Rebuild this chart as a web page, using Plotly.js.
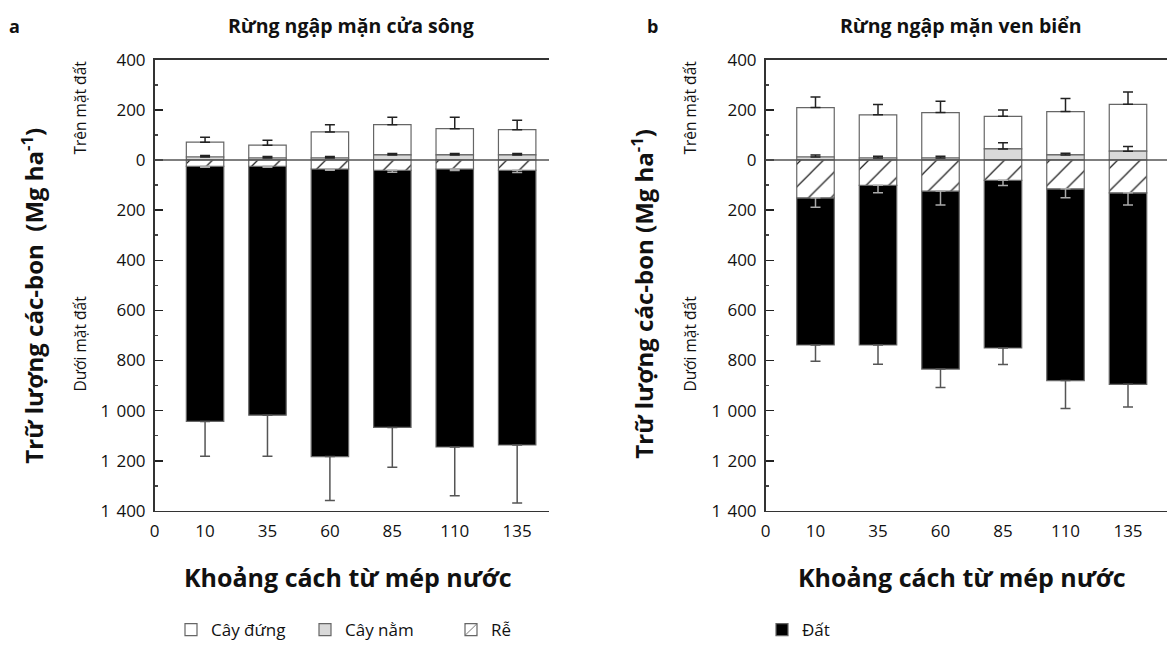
<!DOCTYPE html>
<html>
<head>
<meta charset="utf-8">
<script src="https://cdn.plot.ly/plotly-3.0.1.min.js"></script>
<style>html,body{margin:0;padding:0;background:#fff;}#chart{width:1167px;height:648px;}</style>
</head>
<body>
<div id="chart"></div>
<script>
// ---------- DATA ----------
const distances = ['10', '35', '60', '85', '110', '135'];
const seriesNames = ['Cây đứng', 'Cây nằm', 'Rễ', 'Đất'];

// Panel a: Rừng ngập mặn cửa sông (Mg ha-1)
const aStanding    = [59, 51, 104, 121, 105, 101];
const aStandingErr = [20, 20, 29, 29, 45, 38];
const aDowned      = [12, 8, 8, 20, 20, 20];
const aDownedErr   = [6, 6, 6, 6, 6, 6];
const aRoots       = [25, 25, 36, 41, 36, 41];
const aRootsErr    = [4, 4, 5, 8, 6, 9];
const aSoil        = [1018, 993, 1147, 1026, 1109, 1096];
const aSoilErr     = [139, 164, 175, 159, 194, 231];

// Panel b: Rừng ngập mặn ven biển (Mg ha-1)
const bStanding    = [197, 172, 181, 130, 173, 187];
const bStandingErr = [42, 41, 45, 25, 52, 49];
const bDowned      = [12, 8, 8, 44, 20, 35];
const bDownedErr   = [8, 7, 7, 25, 7, 19];
const bRoots       = [151, 101, 124, 81, 115, 131];
const bRootsErr    = [38, 30, 56, 21, 36, 49];
const bSoil        = [587, 637, 710, 669, 765, 764];
const bSoilErr     = [65, 77, 74, 66, 111, 90];

const yTickValues = [-1400, -1200, -1000, -800, -600, -400, -200, 0, 200, 400];

// ---------- BUILD ----------
const FONT = '"Open Sans", "Noto Sans", sans-serif';
const xPos = distances.map((_, i) => i + 1);
const zeros = distances.map(() => 0);
const neg = arr => arr.map(v => -v);
const fmt = v => String(Math.abs(v)).replace(/\B(?=(\d{3})+(?!\d))/g, ' \u200A');

function panelTraces(standing, standingErr, downed, downedErr, roots, rootsErr, soil, soilErr, xa, ya, showLeg) {
  const common = {type: 'bar', x: xPos, xaxis: xa, yaxis: ya, width: 0.6, hoverinfo: 'y+name'};
  const line = {color: '#666', width: 1.2};
  return [
    Object.assign({}, common, {
      name: seriesNames[0], y: standing, base: downed,
      marker: {color: '#ffffff', line: line},
      error_y: {type: 'data', symmetric: false, array: standingErr, arrayminus: zeros, color: '#222', thickness: 1.5, width: 5},
      showlegend: showLeg, legend: 'legend'
    }),
    Object.assign({}, common, {
      name: seriesNames[1], y: downed,
      marker: {color: '#d9d9d9', line: line},
      error_y: {type: 'data', symmetric: false, array: downedErr, arrayminus: zeros, color: '#222', thickness: 1.5, width: 5},
      showlegend: showLeg, legend: 'legend2'
    }),
    Object.assign({}, common, {
      name: seriesNames[3], y: neg(soil), base: neg(roots),
      marker: {color: '#000000', line: line},
      error_y: {type: 'data', symmetric: false, array: zeros, arrayminus: soilErr, color: '#555', thickness: 1.5, width: 5},
      showlegend: showLeg, legend: 'legend4'
    }),
    Object.assign({}, common, {
      name: seriesNames[2], y: neg(roots),
      marker: {color: '#ffffff', line: line,
               pattern: {shape: '/', fgcolor: '#222', bgcolor: '#ffffff', size: 16, solidity: 0.08}},
      error_y: {type: 'data', symmetric: false, array: zeros, arrayminus: rootsErr, color: '#aaa', thickness: 1.5, width: 5},
      showlegend: showLeg, legend: 'legend3'
    })
  ];
}

const data = []
  .concat(panelTraces(aStanding, aStandingErr, aDowned, aDownedErr, aRoots, aRootsErr, aSoil, aSoilErr, 'x', 'y', true))
  .concat(panelTraces(bStanding, bStandingErr, bDowned, bDownedErr, bRoots, bRootsErr, bSoil, bSoilErr, 'x2', 'y2', false));

function xAxis(domain, range, anchor) {
  return {
    domain: domain, range: range, anchor: anchor, type: 'linear',
    tickmode: 'array', tickvals: [range[0]].concat(xPos), ticktext: ['0'].concat(distances),
    ticks: '', showgrid: false, zeroline: false,
    showline: true, mirror: true, linecolor: '#333', linewidth: 1.5,
    tickfont: {family: FONT, size: 17, color: '#111'}, ticklabelstandoff: 4, fixedrange: true
  };
}
function yAxis(anchor) {
  return {
    domain: [1 - 513.3 / 648, 1 - 60 / 648], range: [-1400, 400], anchor: anchor,
    tickmode: 'array', tickvals: yTickValues, ticktext: yTickValues.map(fmt),
    ticks: 'inside', ticklen: 8, tickwidth: 1.5, tickcolor: '#222',
    minor: {tickmode: 'linear', tick0: 0, dtick: 100, ticks: 'inside', ticklen: 3, tickwidth: 1.5, tickcolor: '#444', showgrid: false},
    showgrid: false, zeroline: false,
    showline: true, mirror: false, linecolor: '#333', linewidth: 1.5,
    tickfont: {family: FONT, size: 17, color: '#111'}, ticklabelstandoff: 4, fixedrange: true
  };
}

function ann(text, x, y, opts) {
  return Object.assign({text: text, x: x / 1167, y: 1 - y / 648, xref: 'paper', yref: 'paper',
    showarrow: false, xanchor: 'center', yanchor: 'middle',
    font: {family: FONT, size: 16, color: '#111'}}, opts || {});
}
const bold = (s) => ({family: FONT, size: s, color: '#111', weight: 'bold'});
const reg = (s) => ({family: FONT, size: s, color: '#111'});

const annotations = [
  ann('<b>a</b>', 14, 26, {font: bold(18)}),
  ann('<b>b</b>', 652, 26, {font: bold(18)}),
  ann('<b>Rừng ngập mặn cửa sông</b>', 351, 26, {font: bold(19.5)}),
  ann('<b>Rừng ngập mặn ven biển</b>', 961, 26, {font: bold(19.5)}),
  ann('<b>Trữ lượng các-bon  (Mg ha<sup>-1</sup>)</b>', 33, 297, {font: bold(24), textangle: -90}),
  ann('<b>Trữ lượng các-bon (Mg ha<sup>-1</sup>)</b>', 643, 295, {font: bold(24), textangle: -90}),
  ann('Trên mặt đất', 80, 108, {font: reg(15.5), textangle: -90}),
  ann('Dưới mặt đất', 80, 345, {font: reg(15.5), textangle: -90}),
  ann('Trên mặt đất', 690, 108, {font: reg(15.5), textangle: -90}),
  ann('Dưới mặt đất', 690, 345, {font: reg(15.5), textangle: -90}),
  ann('<b>Khoảng cách từ mép nước</b>', 348, 580, {font: bold(25)}),
  ann('<b>Khoảng cách từ mép nước</b>', 962, 580, {font: bold(25)})
];

const shapes = [
  {type: 'line', xref: 'x domain', yref: 'y', x0: 0, x1: 1, y0: 0, y1: 0, line: {color: '#555', width: 1.5}, layer: 'above'},
  {type: 'line', xref: 'x2 domain', yref: 'y2', x0: 0, x1: 1, y0: 0, y1: 0, line: {color: '#555', width: 1.5}, layer: 'above'}
];

function leg(xpx) {
  return {x: xpx / 1167, y: 1 - 633 / 648, xanchor: 'left', yanchor: 'middle', orientation: 'h',
    bgcolor: 'rgba(0,0,0,0)', borderwidth: 0, font: {family: FONT, size: 17, color: '#111'}};
}

const layout = {
  width: 1167, height: 648,
  margin: {l: 0, r: 0, t: 0, b: 0},
  paper_bgcolor: '#fff', plot_bgcolor: '#fff',
  barmode: 'overlay', bargap: 0,
  font: {family: FONT, size: 16, color: '#111'},
  xaxis: xAxis([154.5 / 1167, 549 / 1167], [0.19, 6.51], 'y'),
  yaxis: yAxis('x'),
  xaxis2: xAxis([765.5 / 1167, 1], [0.2, 6.624], 'y2'),
  yaxis2: yAxis('x2'),
  showlegend: true,
  legend: leg(171), legend2: leg(305), legend3: leg(451), legend4: leg(762),
  annotations: annotations,
  shapes: shapes
};

Plotly.newPlot('chart', data, layout, {displayModeBar: false, staticPlot: true});
</script>
</body>
</html>
